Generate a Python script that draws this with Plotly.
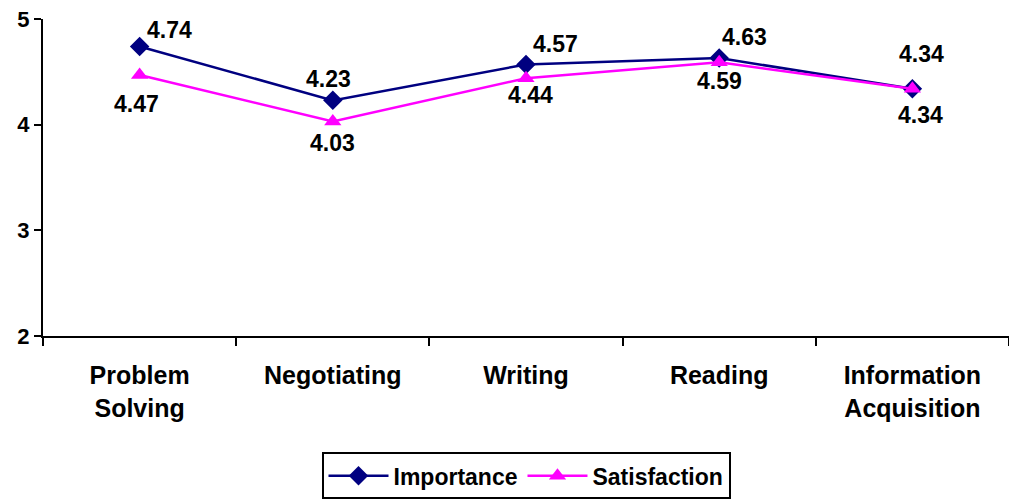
import plotly.graph_objects as go

categories = ["Problem<br>Solving", "Negotiating", "Writing", "Reading", "Information<br>Acquisition"]
importance = [4.74, 4.23, 4.57, 4.63, 4.34]
satisfaction = [4.47, 4.03, 4.44, 4.59, 4.34]

# label offsets in pixels (xshift, yshift)
imp_shift = [(30, 16), (-4, 21), (29, 20), (25, 21), (9, 35)]
sat_shift = [(-3, -29), (0, -21), (4, -17), (0, -19), (8, -26)]

FONT = "Arial, Liberation Sans, sans-serif"

fig = go.Figure()
fig.add_trace(go.Scatter(
    x=categories, y=importance, name="Importance", mode="lines+markers",
    line=dict(color="#000080", width=2.5),
    marker=dict(symbol="diamond", size=15, color="#000080"),
))
fig.add_trace(go.Scatter(
    x=categories, y=satisfaction, name="Satisfaction", mode="lines+markers",
    line=dict(color="#FF00FF", width=2.5),
    marker=dict(symbol="triangle-up", size=15, color="#FF00FF"),
))

annotations = []
for vals, shifts in ((importance, imp_shift), (satisfaction, sat_shift)):
    for c, v, (dx, dy) in zip(categories, vals, shifts):
        annotations.append(dict(
            x=c, y=v, text=f"<b>{v:.2f}</b>", showarrow=False,
            xshift=dx, yshift=dy,
            font=dict(family=FONT, size=23, color="black"),
        ))

fig.update_layout(
    width=1009, height=500,
    margin=dict(l=43, r=0, t=19, b=162),
    paper_bgcolor="white", plot_bgcolor="white",
    font=dict(family=FONT, color="black"),
    annotations=annotations,
    showlegend=True,
    legend=dict(
        orientation="h", x=0.5, xanchor="center", y=-0.367, yanchor="top",
        bordercolor="black", borderwidth=2,
        font=dict(family=FONT, size=23, color="black", weight="bold"),
        itemwidth=60,
    ),
    xaxis=dict(
        type="category", range=[-0.5, 4.5], tickson="boundaries",
        ticks="outside", ticklen=8, tickwidth=2, tickcolor="black",
        showline=True, linecolor="black", linewidth=2,
        showgrid=False, zeroline=False,
        ticklabelstandoff=16,
        tickfont=dict(family=FONT, size=25, color="black", weight="bold"),
    ),
    yaxis=dict(
        range=[2, 5], dtick=1, tick0=2,
        ticks="outside", ticklen=7, tickwidth=2, tickcolor="black",
        showline=True, linecolor="black", linewidth=2,
        showgrid=False, zeroline=False,
        tickfont=dict(family=FONT, size=22, color="black", weight="bold"),
    ),
)

fig.write_html("out.html")
